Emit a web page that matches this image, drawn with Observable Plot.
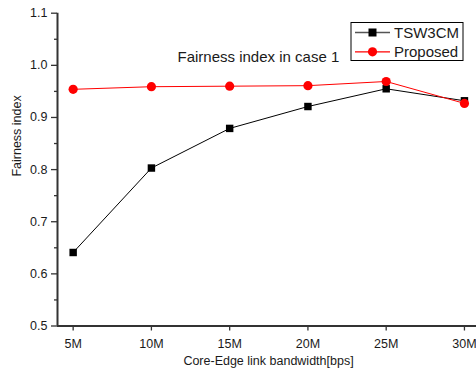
<!DOCTYPE html>
<html>
<head>
<meta charset="utf-8">
<script src="https://cdn.jsdelivr.net/npm/d3@7"></script>
<script src="https://cdn.jsdelivr.net/npm/@observablehq/plot@0.6"></script>
<style>
  html, body { margin: 0; padding: 0; background: #fff; }
  #chart svg { display: block; }
</style>
</head>
<body>
<div id="chart"></div>
<script>
// ---- data ----
const bandwidth = [5, 10, 15, 20, 25, 30];           // Mbps
const tsw3cm   = [0.641, 0.803, 0.879, 0.921, 0.955, 0.932];
const proposed = [0.954, 0.959, 0.960, 0.961, 0.969, 0.927];
const seriesNames = ["TSW3CM", "Proposed"];
const seriesColors = ["#000000", "#ff0000"];
const xTicks = [5, 10, 15, 20, 25, 30];
const yTicks = [0.5, 0.6, 0.7, 0.8, 0.9, 1.0, 1.1];
const yMinor = [0.55, 0.65, 0.75, 0.85, 0.95, 1.05];
const xDomain = [4, 30.77];
const yDomain = [0.5, 1.1];
const titleText = "Fairness index in case 1";
const xLabel = "Core-Edge link bandwidth[bps]";
const yLabel = "Fairness index";

const rowsA = bandwidth.map((x, i) => ({x, y: tsw3cm[i]}));
const rowsB = bandwidth.map((x, i) => ({x, y: proposed[i]}));

const font = "'Liberation Sans', Arial, sans-serif";
const axisColor = "#333";

const chart = Plot.plot({
  width: 476,
  height: 377,
  marginLeft: 57,
  marginRight: 0,
  marginTop: 12.7,
  marginBottom: 51.5,
  style: {fontFamily: font, fontSize: "12.5px", color: "#1a1a1a", background: "#fff", overflow: "visible"},
  x: {domain: xDomain, axis: null},
  y: {domain: yDomain, axis: null},
  marks: [
    Plot.axisY({ticks: yMinor, tickSize: 3, tickFormat: () => "", stroke: axisColor, strokeWidth: 1.3, label: null}),
    Plot.axisY({ticks: yTicks, tickSize: 6, tickPadding: 4, tickFormat: d3.format(".1f"), stroke: axisColor, strokeWidth: 1.3, fontSize: 12.5, fill: "#1a1a1a", label: null}),
    Plot.axisX({ticks: xTicks, tickSize: 5, tickPadding: 8, tickFormat: d => d + "M", stroke: axisColor, strokeWidth: 1.3, fontSize: 12.5, fill: "#1a1a1a", label: null}),
    Plot.ruleX([xDomain[0]], {stroke: axisColor, strokeWidth: 2}),
    Plot.ruleY([yDomain[0]], {stroke: axisColor, strokeWidth: 2}),
    Plot.line(rowsA, {x: "x", y: "y", stroke: seriesColors[0], strokeWidth: 1}),
    Plot.dot(rowsA, {x: "x", y: "y", symbol: "square", r: 4.2, fill: seriesColors[0], stroke: "none"}),
    Plot.line(rowsB, {x: "x", y: "y", stroke: seriesColors[1], strokeWidth: 1}),
    Plot.dot(rowsB, {x: "x", y: "y", symbol: "circle", r: 4.6, fill: seriesColors[1], stroke: "none"}),
    Plot.text([titleText], {frameAnchor: "top-left", textAnchor: "start", dx: 120, dy: 38, fontSize: 15, fill: "#1a1a1a"}),
    Plot.text([xLabel], {frameAnchor: "bottom", dx: 1.5, dy: 39, fontSize: 12.5, fill: "#1a1a1a"}),
    Plot.text([yLabel], {frameAnchor: "left", rotate: -90, dx: -41, dy: 7, fontSize: 12.5, fill: "#1a1a1a"})
  ]
});

// legend box drawn inside the SVG
const svg = d3.select(chart);
const lg = svg.append("g").attr("transform", "translate(351,22.5)");
lg.append("rect").attr("width", 112).attr("height", 38).attr("fill", "#fff").attr("stroke", "#000").attr("stroke-width", 1);
seriesNames.forEach((name, i) => {
  const cy = 10 + i * 19.3;
  const g = lg.append("g").attr("transform", `translate(0,${cy})`);
  g.append("line").attr("x1", 4).attr("x2", 39).attr("y1", 0).attr("y2", 0)
    .attr("stroke", i === 0 ? "#555" : seriesColors[i]).attr("stroke-width", 1.3);
  if (i === 0) {
    g.append("rect").attr("x", 17.5).attr("y", -4).attr("width", 8).attr("height", 8).attr("fill", seriesColors[i]);
  } else {
    g.append("circle").attr("cx", 21.5).attr("cy", 0).attr("r", 4.6).attr("fill", seriesColors[i]);
  }
  g.append("text").attr("x", 43).attr("y", 0).attr("dy", "0.35em")
    .attr("text-anchor", "start")
    .attr("font-family", font).attr("font-size", 15).attr("fill", "#1a1a1a").text(name);
});

document.getElementById("chart").appendChild(chart);
</script>
</body>
</html>
